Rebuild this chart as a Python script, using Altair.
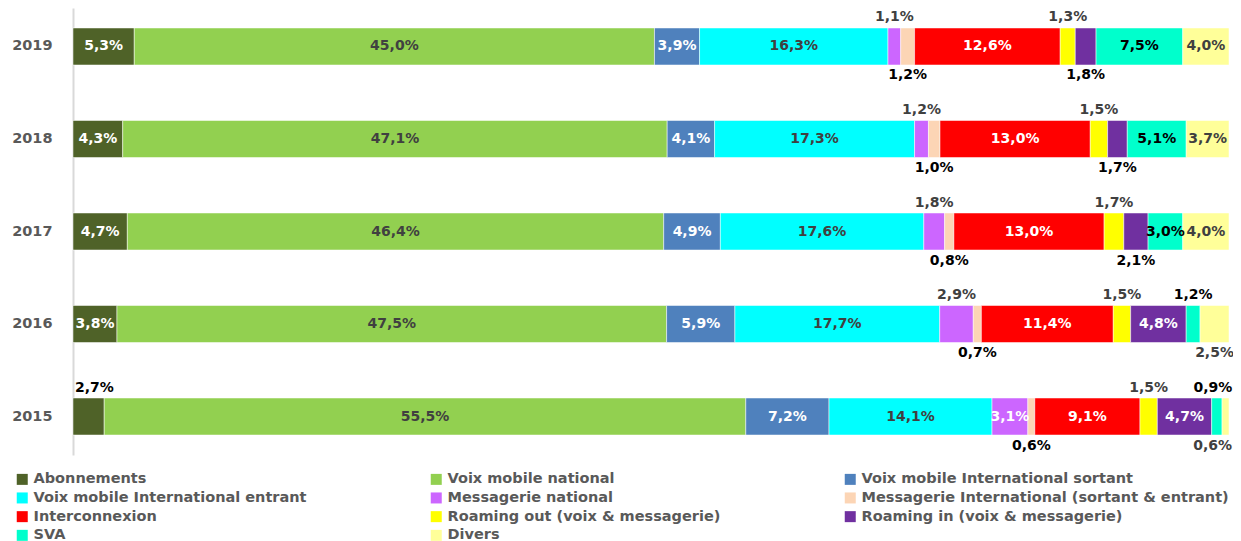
import altair as alt
import pandas as pd

years = ["2019", "2018", "2017", "2016", "2015"]
categories = [
    "Abonnements",
    "Voix mobile national",
    "Voix mobile International sortant",
    "Voix mobile International entrant",
    "Messagerie national",
    "Messagerie International (sortant & entrant)",
    "Interconnexion",
    "Roaming out (voix & messagerie)",
    "Roaming in (voix & messagerie)",
    "SVA",
    "Divers",
]
colors = ["#4f6228", "#92d050", "#4f81bd", "#00ffff", "#cc66ff", "#fcd5b5",
          "#ff0000", "#ffff00", "#7030a0", "#00ffcc", "#ffff99"]

# values per category, in the order of `years`
abonnements = [5.3, 4.3, 4.7, 3.8, 2.7]
voix_nat = [45.0, 47.1, 46.4, 47.5, 55.5]
voix_int_sort = [3.9, 4.1, 4.9, 5.9, 7.2]
voix_int_entr = [16.3, 17.3, 17.6, 17.7, 14.1]
mess_nat = [1.1, 1.2, 1.8, 2.9, 3.1]
mess_int = [1.2, 1.0, 0.8, 0.7, 0.6]
interco = [12.6, 13.0, 13.0, 11.4, 9.1]
roam_out = [1.3, 1.5, 1.7, 1.5, 1.5]
roam_in = [1.8, 1.7, 2.1, 4.8, 4.7]
sva = [7.5, 5.1, 3.0, 1.2, 0.9]
divers = [4.0, 3.7, 4.0, 2.5, 0.6]
series = [abonnements, voix_nat, voix_int_sort, voix_int_entr, mess_nat, mess_int,
          interco, roam_out, roam_in, sva, divers]

# legend shows 3 columns filled row by row; Vega fills column by column,
# so the legend domain lists the entries column-wise
legend_rows = 4
legend_order = [categories[r * 3 + c] for c in range(3) for r in range(legend_rows)
                if r * 3 + c < len(categories)]
legend_colors = [colors[categories.index(c)] for c in legend_order]

# label placement (default: inside)
placement = {
    "Messagerie national": ["above", "above", "above", "above", "in"],
    "Messagerie International (sortant & entrant)": ["below"] * 5,
    "Roaming out (voix & messagerie)": ["above"] * 5,
    "Roaming in (voix & messagerie)": ["below", "below", "below", "in", "in"],
    "SVA": ["in", "in", "in", "above", "above_edge"],
    "Divers": ["in", "in", "in", "below", "below_edge"],
    "Abonnements": ["in", "in", "in", "in", "above_start"],
}
inside_color = {
    "Abonnements": "white", "Voix mobile International sortant": "white",
    "Interconnexion": "white", "Roaming in (voix & messagerie)": "white",
    "Messagerie national": "white", "SVA": "black",
}
outside_color = {
    "SVA": "black", "Abonnements": "black",
    "Messagerie International (sortant & entrant)": "black",
    "Roaming in (voix & messagerie)": "black",
}

rows = []
for ci, (cat, vals) in enumerate(zip(categories, series)):
    for yi, (yr, v) in enumerate(zip(years, vals)):
        pos = placement.get(cat, ["in"] * 5)[yi]
        if pos == "in":
            tc = inside_color.get(cat, "#404040")
        else:
            tc = outside_color.get(cat, "#404040")
        rows.append({
            "year": yr, "cat": cat, "order": ci, "value": v,
            "label": f"{v:.1f}".replace(".", ",") + "%",
            "pos": pos, "tcolor": tc,
        })
df = pd.DataFrame(rows)

FONT = "DejaVu Sans"

base = alt.Chart(df).transform_stack(
    stack="value", groupby=["year"], sort=[alt.SortField("order")],
    offset="normalize", as_=["x0", "x1"]
).transform_calculate(mid="(datum.x0 + datum.x1) / 2")

xscale = alt.Scale(domain=[0, 1], nice=False, zero=False)
ydef = alt.Y(
    "year:N", sort=years,
    scale=alt.Scale(paddingInner=0.6, paddingOuter=0.216),
    axis=alt.Axis(title=None, ticks=False, domainColor="#d9d9d9", domainWidth=2,
                  labelFont=FONT, labelFontSize=14.5, labelFontWeight="bold",
                  labelColor="#595959", labelPadding=21),
)

bars = base.mark_bar(stroke="white", strokeWidth=0.5).encode(
    x=alt.X("x0:Q", scale=xscale, axis=None),
    x2="x1:Q",
    y=ydef,
    color=alt.Color(
        "cat:N",
        scale=alt.Scale(domain=legend_order, range=legend_colors),
        legend=alt.Legend(
            title=None, orient="none", legendX=-58, legendY=464, columns=3,
            gridAlign="all", columnPadding=28, rowPadding=3.7, padding=0,
            symbolType="square", symbolSize=121, symbolStrokeWidth=0,
            labelFont=FONT, labelFontSize=14.5, labelFontWeight="bold",
            labelColor="#595959", labelOffset=4, labelLimit=600,
        ),
    ),
)


def text_layer(pos, dy, xfield="mid:Q", align="center", dx=0):
    return base.transform_filter(alt.datum.pos == pos).mark_text(
        font=FONT, fontSize=14, fontWeight="bold", dy=dy, align=align, dx=dx
    ).encode(
        x=alt.X(xfield, scale=xscale, axis=None),
        y=ydef,
        text="label:N",
        fill=alt.Fill("tcolor:N", scale=None),
    )


chart = alt.layer(
    bars,
    text_layer("in", 0),
    text_layer("above", -29),
    text_layer("below", 29),
    text_layer("above_start", -29, xfield="x0:Q", align="left", dx=2),
    text_layer("above_edge", -29, dx=-4),
    text_layer("below_edge", 29, xfield="x1:Q", align="right", dx=3),
).properties(
    width=1156, height=447,
    padding={"left": 65, "top": 0, "right": 4, "bottom": 86},
    autosize="none",
).configure_view(stroke=None)

chart.save("out.html", embed_options={"renderer": "svg", "actions": False})
